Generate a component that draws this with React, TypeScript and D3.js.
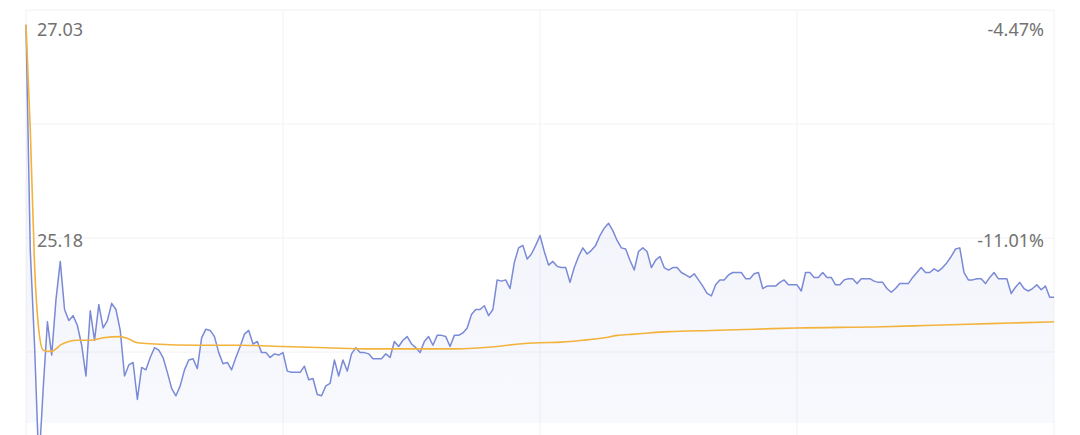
import React from "react";
import * as d3 from "d3";

// Intraday minute prices (241 points, 9:30 - 15:00)
const prices: number[] = [
  26.91, 25.08, 24.31, 23.33, 23.95, 24.50, 24.23, 24.68, 24.99, 24.60,
  24.51, 24.55, 24.47, 24.31, 24.06, 24.59, 24.35, 24.64, 24.45, 24.51,
  24.65, 24.60, 24.43, 24.06, 24.15, 24.17, 23.87, 24.13, 24.11, 24.21,
  24.29, 24.27, 24.21, 24.09, 23.96, 23.90, 23.98, 24.11, 24.19, 24.20,
  24.12, 24.37, 24.44, 24.43, 24.38, 24.25, 24.16, 24.17, 24.11, 24.21,
  24.30, 24.40, 24.43, 24.32, 24.34, 24.25, 24.25, 24.21, 24.24, 24.23,
  24.25, 24.10, 24.09, 24.09, 24.09, 24.14, 24.03, 24.04, 23.91, 23.90,
  23.98, 24.00, 24.19, 24.06, 24.19, 24.10, 24.24, 24.29, 24.25, 24.25,
  24.24, 24.20, 24.20, 24.20, 24.24, 24.21, 24.34, 24.30, 24.35, 24.38,
  24.32, 24.29, 24.25, 24.34, 24.38, 24.31, 24.39, 24.39, 24.38, 24.30,
  24.39, 24.39, 24.41, 24.45, 24.56, 24.60, 24.60, 24.63, 24.55, 24.60,
  24.84, 24.83, 24.84, 24.77, 24.98, 25.10, 25.12, 25.01, 25.05, 25.12,
  25.20, 25.07, 24.96, 24.99, 24.95, 24.94, 24.94, 24.82, 24.94, 25.03,
  25.10, 25.05, 25.08, 25.12, 25.20, 25.26, 25.30, 25.24, 25.16, 25.10,
  25.09, 25.00, 24.92, 25.07, 25.10, 25.07, 24.94, 25.00, 25.03, 24.94,
  24.92, 24.94, 24.94, 24.90, 24.88, 24.86, 24.89, 24.84, 24.79, 24.73,
  24.71, 24.80, 24.84, 24.84, 24.88, 24.90, 24.90, 24.90, 24.85, 24.85,
  24.89, 24.90, 24.77, 24.79, 24.79, 24.79, 24.82, 24.84, 24.80, 24.80,
  24.80, 24.75, 24.90, 24.90, 24.86, 24.86, 24.90, 24.86, 24.86, 24.80,
  24.80, 24.84, 24.85, 24.85, 24.81, 24.85, 24.85, 24.85, 24.83, 24.82,
  24.82, 24.77, 24.74, 24.77, 24.81, 24.81, 24.81, 24.86, 24.90, 24.94,
  24.90, 24.90, 24.93, 24.91, 24.94, 24.98, 25.03, 25.09, 25.10, 24.90,
  24.84, 24.84, 24.85, 24.85, 24.81, 24.86, 24.90, 24.85, 24.85, 24.85,
  24.73, 24.78, 24.82, 24.77, 24.75, 24.77, 24.80, 24.76, 24.79, 24.70,
  24.70,
];

// Average price line, read at these minute indices
const avgMinutes: number[] = [
  0, 1, 2, 3, 4, 5, 6, 7, 8, 10, 12, 15, 18, 22, 24, 26, 30, 40, 50, 60,
  70, 80, 90, 100, 110, 115, 120, 125, 130, 135, 138, 142, 150, 160, 170,
  180, 200, 210, 220, 230, 240,
];
const avgValues: number[] = [
  26.91, 26.06, 24.96, 24.43, 24.27, 24.26, 24.26, 24.28, 24.31, 24.34,
  24.35, 24.35, 24.37, 24.38, 24.36, 24.33, 24.32, 24.31, 24.31, 24.30,
  24.29, 24.28, 24.28, 24.28, 24.30, 24.32, 24.33, 24.335, 24.35, 24.37,
  24.39, 24.40, 24.42, 24.43, 24.44, 24.45, 24.46, 24.47, 24.48, 24.49,
  24.50,
];

const priceMax = 27.03;
const priceMin = 23.33;
const priceLabels: string[] = ["27.03", "25.18"];
const pctLabels: string[] = ["-4.47%", "-11.01%"];
const labelValues: number[] = [27.03, 25.18];
const gridValues: number[] = [27.03, 26.105, 25.18, 24.255, 23.33];
const gridMinutes: number[] = [0, 60, 120, 180, 240];

const W = 1080;
const H = 435;
const left = 26;
const right = 1054;
const top = 10;
const bottom = 466;
const fillBottom = 423;

export default function App() {
  const x = d3.scaleLinear().domain([0, 240]).range([left, right]);
  const y = d3.scaleLinear().domain([priceMin, priceMax]).range([bottom, top]);

  const line = d3
    .line<number>()
    .x((_, i) => x(i))
    .y((d) => y(d));
  const area = d3
    .area<number>()
    .x((_, i) => x(i))
    .y0(fillBottom)
    .y1((d) => y(d));
  const avgLine = d3
    .line<number>()
    .x((_, i) => x(avgMinutes[i]))
    .y((d) => y(d))
    .curve(d3.curveMonotoneX);

  const font = "'Noto Sans', 'Open Sans', sans-serif";

  return (
    <svg
      width={W}
      height={H}
      style={{ position: "absolute", left: 0, top: 0, background: "#fff" }}
    >
      <defs>
        <linearGradient id="fillGrad" x1="0" y1="0" x2="0" y2="1">
          <stop offset="0%" stopColor="rgb(110,130,215)" stopOpacity={0.11} />
          <stop offset="100%" stopColor="rgb(110,130,215)" stopOpacity={0.04} />
        </linearGradient>
      </defs>
      <rect x={0} y={0} width={W} height={H} fill="#fff" />
      {gridValues.map((v, i) => (
        <line
          key={"h" + i}
          x1={left}
          x2={right}
          y1={y(v)}
          y2={y(v)}
          stroke="#f2f2f4"
          strokeWidth={1}
        />
      ))}
      {gridMinutes.map((m, i) => (
        <line
          key={"v" + i}
          x1={x(m)}
          x2={x(m)}
          y1={top}
          y2={bottom}
          stroke="#f2f2f4"
          strokeWidth={1}
        />
      ))}
      <path d={area(prices) || ""} fill="url(#fillGrad)" />
      <path
        d={line(prices) || ""}
        fill="none"
        stroke="#7a8ad6"
        strokeWidth={1.5}
        strokeLinejoin="round"
      />
      <path
        d={avgLine(avgValues) || ""}
        fill="none"
        stroke="#f3b23c"
        strokeWidth={1.6}
      />
      {priceLabels.map((t, i) => (
        <text
          key={"pl" + i}
          x={left + 11}
          y={i === 0 ? y(labelValues[i]) + 26 : y(labelValues[i]) + 8.5}
          fontFamily={font}
          fontSize={18}
          fill="#727272"
        >
          {t}
        </text>
      ))}
      {pctLabels.map((t, i) => (
        <text
          key={"pc" + i}
          x={right - 10}
          y={i === 0 ? y(labelValues[i]) + 26 : y(labelValues[i]) + 8.5}
          fontFamily={font}
          fontSize={18}
          fill="#727272"
          textAnchor="end"
        >
          {t}
        </text>
      ))}
    </svg>
  );
}
